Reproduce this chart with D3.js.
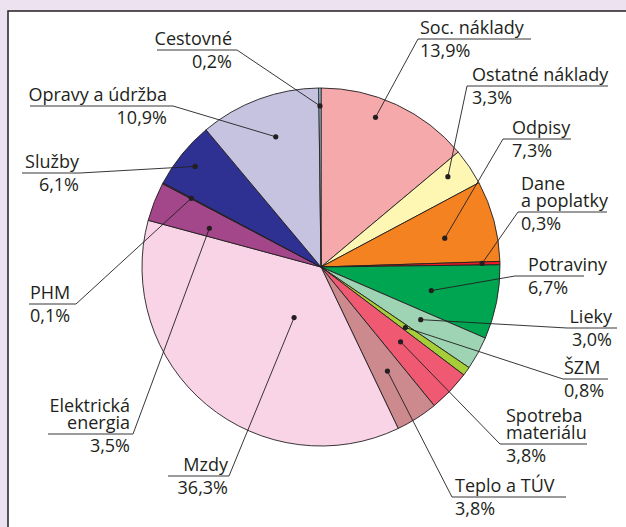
<!DOCTYPE html>
<html>
<head>
<meta charset="utf-8">
<script src="https://cdn.jsdelivr.net/npm/d3@7"></script>
<style>
  body { margin: 0; background: #ede2ef; }
  svg { display: block; }
</style>
</head>
<body>
<svg id="chart" width="626" height="527"></svg>
<script>
// data, clockwise from 12 o'clock
let categories = ["Soc. náklady", "Ostatné náklady", "Odpisy", "Dane a poplatky", "Potraviny",
                  "Lieky", "ŠZM", "Spotreba materiálu", "Teplo a TÚV", "Mzdy",
                  "Elektrická energia", "PHM", "Služby", "Opravy a údržba", "Cestovné"];
let shares = [13.9, 3.3, 7.3, 0.3, 6.7, 3.0, 0.8, 3.8, 3.8, 36.3, 3.5, 0.1, 6.1, 10.9, 0.2];
let colors = ["#f5a9ab", "#fef7b4", "#f58220", "#ed1c24", "#00a551",
              "#9ed4b3", "#a6ce39", "#ef5a72", "#cc8a8e", "#f8d4e6",
              "#a3468a", "#6d2a7a", "#2e3092", "#c5c3e0", "#a8dcf0"];

// label placement (text lines, underline, where the leader dot sits in the slice)
let labelLayout = [
    {lines: ["Soc. náklady"], anchor: "start", tx: 420, uy: 39, ux: [418, 531], attach: 418, t: 0.40, rf: 0.89},
    {lines: ["Ostatné náklady"], anchor: "start", tx: 472, uy: 86, ux: [467, 608], attach: 467, t: 0.38, rf: 0.87},
    {lines: ["Odpisy"], anchor: "start", tx: 512, uy: 139, ux: [503, 571], attach: 503, t: 0.57, rf: 0.71},
    {lines: ["Dane", "a poplatky"], anchor: "start", tx: 521, uy: 212, ux: [518, 607], attach: 518, t: 0.5, rf: 0.9},
    {lines: ["Potraviny"], anchor: "start", tx: 528, uy: 276, ux: [515, 584], attach: 515, t: 0.53, rf: 0.63},
    {lines: ["Lieky"], anchor: "end", tx: 612, uy: 328, ux: [567, 617], attach: 567, t: 0.41, rf: 0.63},
    {lines: ["ŠZM"], anchor: "start", tx: 564, uy: 379, ux: [563, 608], attach: 563, t: 0.5, rf: 0.58},
    {lines: ["Spotreba", "materiálu"], anchor: "start", tx: 506, uy: 444, ux: [500, 587], attach: 500, t: 0.45, rf: 0.61},
    {lines: ["Teplo a TÚV"], anchor: "start", tx: 455, uy: 497, ux: [452, 566], attach: 452, t: 0.49, rf: 0.69},
    {lines: ["Mzdy"], anchor: "end", tx: 228, uy: 476, ux: [168, 229], attach: 229, t: 0.41, rf: 0.32},
    {lines: ["Elektrická", "energia"], anchor: "end", tx: 130, uy: 434, ux: [48, 133], attach: 133, t: 0.32, rf: 0.66},
    {lines: ["PHM"], anchor: "start", tx: 30, uy: 304, ux: [29, 76], attach: 76, t: 0.5, rf: 0.82},
    {lines: ["Služby"], anchor: "end", tx: 79, uy: 173, ux: [22, 80], attach: 80, t: 0.48, rf: 0.9},
    {lines: ["Opravy a údržba"], anchor: "end", tx: 167, uy: 106, ux: [30, 173], attach: 173, t: 0.53, rf: 0.77},
    {lines: ["Cestovné"], anchor: "end", tx: 232, uy: 50, ux: [157, 237], attach: 237, t: 0.5, rf: 0.9}
];

let svg = d3.select("#chart");
let cx = 321, cy = 267, radius = 179;

// white panel with dark frame (runs off right and bottom)
svg.append("rect")
    .attr("x", 8).attr("y", 11)
    .attr("width", 640).attr("height", 540)
    .attr("fill", "#ffffff")
    .attr("stroke", "#231f20")
    .attr("stroke-width", 1.5);

let pct = d3.formatLocale({decimal: ",", thousands: " ", grouping: [3], currency: ["", ""]}).format(".1f");

let data = categories.map((c, i) => ({name: c, value: shares[i], color: colors[i], layout: labelLayout[i]}));

let pie = d3.pie().sort(null).value(d => d.value).startAngle(0).endAngle(2 * Math.PI);
let arcs = pie(data);

let r = d3.scaleLinear().domain([0, 1]).range([0, radius]);
let arc = d3.arc().innerRadius(0).outerRadius(r(1));

let pieG = svg.append("g").attr("transform", `translate(${cx},${cy})`);

pieG.selectAll("path")
    .data(arcs)
    .enter()
    .append("path")
    .attr("d", arc)
    .attr("fill", d => d.data.color)
    .attr("stroke", "#231f20")
    .attr("stroke-width", 0.9)
    .attr("stroke-linejoin", "round");

// dot inside each slice
function dotPos(d) {
    let L = d.data.layout;
    let a = d.startAngle + L.t * (d.endAngle - d.startAngle);
    let p = d3.pointRadial(a, r(L.rf));
    return [p[0] + cx, p[1] + cy];
}

let labels = svg.append("g");

// leaders + underlines
labels.selectAll("path.leader")
    .data(arcs)
    .enter()
    .append("path")
    .attr("class", "leader")
    .attr("fill", "none")
    .attr("stroke", "#231f20")
    .attr("stroke-width", 0.9)
    .attr("d", d => {
        let L = d.data.layout;
        let p = dotPos(d);
        let other = L.attach === L.ux[0] ? L.ux[1] : L.ux[0];
        return d3.line()([p, [L.attach, L.uy], [other, L.uy]]);
    });

labels.selectAll("circle")
    .data(arcs)
    .enter()
    .append("circle")
    .attr("cx", d => dotPos(d)[0])
    .attr("cy", d => dotPos(d)[1])
    .attr("r", 2.6)
    .attr("fill", "#231f20");

let texts = labels.selectAll("text.lab")
    .data(arcs)
    .enter()
    .append("text")
    .attr("class", "lab")
    .attr("font-family", "'Open Sans', sans-serif")
    .attr("font-size", 18)
    .attr("fill", "#231f20")
    .attr("text-anchor", d => d.data.layout.anchor);

texts.each(function(d) {
    let L = d.data.layout;
    let t = d3.select(this);
    let n = L.lines.length;
    L.lines.forEach((line, i) => {
        t.append("tspan")
            .attr("x", L.tx)
            .attr("y", L.uy - 5 - (n - 1 - i) * 17.5)
            .text(line);
    });
    t.append("tspan")
        .attr("x", L.tx)
        .attr("y", L.uy + 18)
        .text(pct(d.data.value) + "%");
});
</script>
</body>
</html>
